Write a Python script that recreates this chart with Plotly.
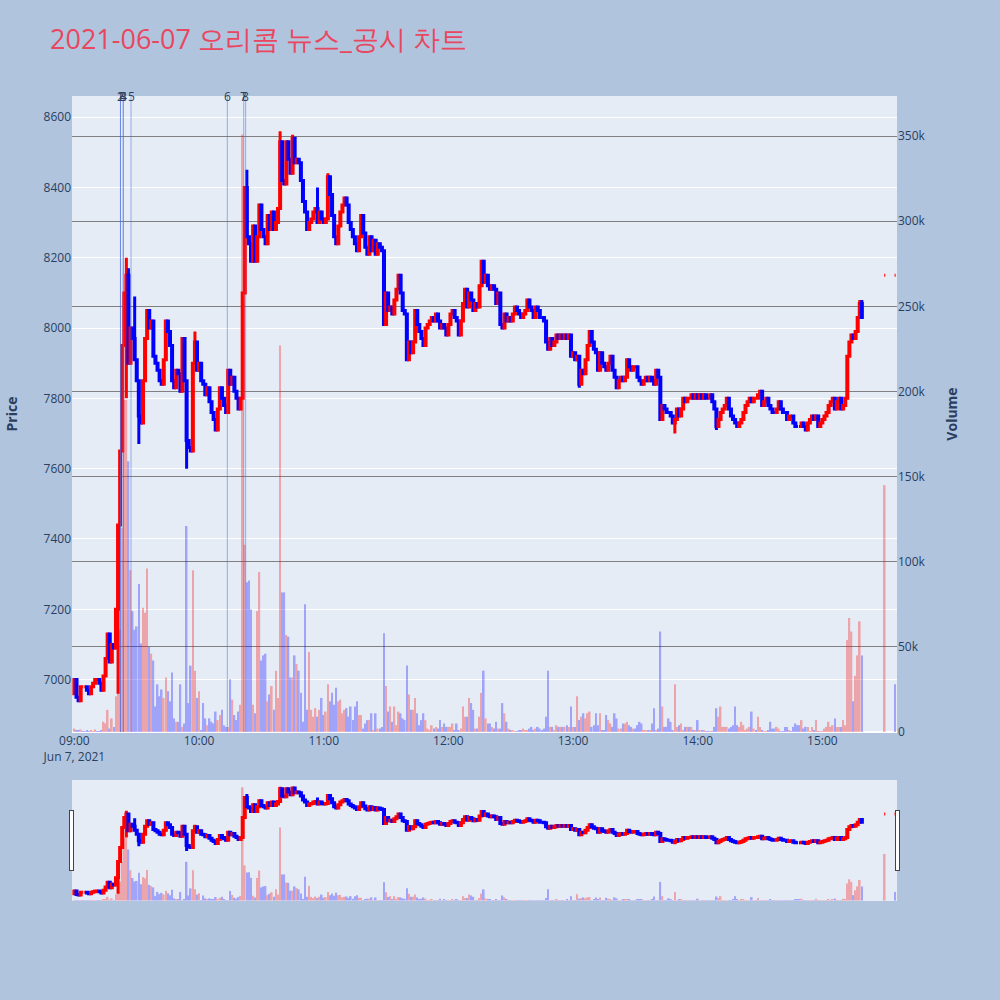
import pandas as pd
import plotly.graph_objects as go

title_text = "2021-06-07 오리콤 뉴스_공시 차트"

session_start = "2021-06-07 09:00"
first_open = 6960
# one close per minute, 09:00 .. 15:19
close_prices = [
    7000, 6950, 6940, 6980, 6980, 6980, 6970, 6960, 6980, 6990,
    7000, 7000, 6990, 6970, 7010, 7060, 7130, 7050, 7100, 7090,
    7200, 7440, 7650, 7950, 8100, 8150, 7900, 8000, 7970, 7910,
    7850, 7750, 7730, 7850, 7970, 8050, 8000, 8020, 7920, 7900,
    7880, 7850, 7840, 7910, 8020, 7990, 7950, 7850, 7830, 7880,
    7870, 7820, 7970, 7850, 7680, 7660, 7650, 7900, 7960, 7880,
    7900, 7850, 7840, 7810, 7830, 7790, 7760, 7740, 7710, 7770,
    7830, 7800, 7780, 7760, 7880, 7840, 7860, 7820, 7800, 7770,
    7800, 8100, 8400, 8260, 8240, 8190, 8290, 8190, 8260, 8350,
    8280, 8260, 8240, 8320, 8280, 8330, 8280, 8300, 8340, 8530,
    8420, 8410, 8530, 8480, 8440, 8540, 8470, 8480, 8470, 8420,
    8360, 8330, 8280, 8300, 8310, 8330, 8340, 8300, 8330, 8310,
    8300, 8310, 8430, 8380, 8320, 8260, 8240, 8290, 8330, 8350,
    8370, 8350, 8300, 8280, 8260, 8240, 8220, 8260, 8320, 8270,
    8230, 8210, 8260, 8220, 8250, 8210, 8240, 8230, 8220, 8010,
    8100, 8050, 8060, 8040, 8080, 8110, 8150, 8100, 8050, 8040,
    7910, 7960, 7930, 7960, 8050, 8010, 7990, 7970, 7950, 8000,
    8010, 8020, 8030, 8020, 8040, 8020, 8000, 8010, 8000, 7980,
    8010, 8040, 8050, 8030, 8020, 7980, 8020, 8070, 8110, 8060,
    8100, 8080, 8050, 8070, 8060, 8120, 8190, 8130, 8150, 8120,
    8110, 8120, 8110, 8070, 8100, 8010, 8000, 8040, 8020, 8030,
    8020, 8040, 8060, 8050, 8040, 8030, 8040, 8050, 8080, 8060,
    8050, 8030, 8060, 8050, 8030, 8030, 8020, 7960, 7940, 7970,
    7950, 7960, 7980, 7970, 7980, 7970, 7980, 7970, 7980, 7920,
    7930, 7910, 7920, 7840, 7880, 7870, 7910, 7950, 7990, 7960,
    7940, 7930, 7880, 7930, 7900, 7890, 7880, 7900, 7920, 7880,
    7860, 7830, 7850, 7860, 7850, 7860, 7910, 7890, 7880, 7890,
    7890, 7860, 7850, 7840, 7850, 7860, 7850, 7860, 7850, 7840,
    7880, 7860, 7740, 7780, 7770, 7760, 7760, 7750, 7730, 7740,
    7770, 7750, 7770, 7800, 7790, 7800, 7800, 7810, 7800, 7810,
    7800, 7810, 7800, 7810, 7800, 7800, 7810, 7790, 7770, 7720,
    7740, 7760, 7770, 7780, 7800, 7770, 7750, 7740, 7730, 7720,
    7730, 7740, 7760, 7780, 7790, 7800, 7790, 7800, 7800, 7810,
    7820, 7780, 7790, 7800, 7780, 7770, 7760, 7760, 7770, 7790,
    7770, 7760, 7760, 7740, 7750, 7750, 7730, 7720, 7720, 7720,
    7730, 7720, 7710, 7730, 7740, 7750, 7740, 7750, 7720, 7730,
    7740, 7750, 7760, 7780, 7790, 7800, 7770, 7790, 7800, 7770,
    7780, 7800, 7920, 7960, 7980, 7970, 7990, 8030, 8070, 8030,
]
# wick extremes (minute index -> price)
wick_high = {25: 8200, 26: 8170, 29: 8090, 58: 7990, 83: 8450, 99: 8560,
             105: 8550, 117: 8400, 122: 8440, 378: 8080, 379: 8080}
wick_low = {21: 6960, 25: 7800, 31: 7670, 54: 7600, 243: 7830, 289: 7700, 309: 7710}

# volume per minute, in thousands of shares
volumes_k = [
    2, 1, 1, 1.5, 0.5, 0.5, 1, 0.5, 1, 0.5,
    1.5, 0.5, 0.5, 1, 6, 5, 13, 2, 8, 3,
    21, 30, 60, 120, 195, 195, 159, 95, 71, 60,
    62, 87, 52, 73, 70, 96, 50, 46, 42, 15,
    28, 21, 25, 20, 32, 24, 18, 35, 8, 6,
    6, 28, 3, 5, 121, 17, 39, 95, 36, 20,
    24, 1, 17, 8, 4, 8, 6, 5, 12, 7,
    10, 13, 4, 3, 3, 31, 19, 10, 7, 12,
    16, 351, 110, 88, 89, 72, 16, 11, 71, 94,
    42, 45, 46, 18, 22, 27, 13, 36, 20, 227,
    82, 82, 57, 56, 32, 32, 45, 40, 36, 23,
    6, 75, 13, 47, 13, 9, 14, 9, 13, 20,
    10, 12, 28, 18, 23, 16, 26, 18, 19, 11,
    13, 14, 9, 15, 7, 15, 18, 10, 10, 2,
    5, 7, 7, 11, 1, 11, 2, 2, 3, 58,
    27, 12, 15, 6, 15, 4, 12, 11, 8, 7,
    39, 22, 13, 13, 20, 11, 4, 7, 11, 7,
    2, 1, 4, 2, 3, 2, 7, 3, 5, 3,
    3, 3, 5, 1, 5, 1, 2, 15, 9, 9,
    20, 17, 13, 2, 2, 9, 23, 36, 8, 5,
    5, 3, 2, 6, 2, 2, 17, 11, 6, 2,
    1, 1, 0.5, 0.5, 1, 1, 2, 1, 1, 2,
    3, 1, 2, 3, 2, 1, 2, 9, 36, 3,
    3, 1, 4, 3, 3, 3, 3, 4, 3, 15,
    3, 3, 21, 7, 9, 11, 8, 11, 12, 3,
    4, 11, 4, 11, 1, 1, 10, 7, 5, 3,
    11, 8, 2, 2, 5, 5, 6, 4, 3, 2,
    2, 4, 6, 5, 1, 1, 1, 1, 5, 14,
    1, 2, 59, 15, 3, 3, 8, 6, 1, 28,
    3, 4, 5, 1, 3, 3, 3, 3, 1, 1,
    7, 1, 1, 1, 0.5, 0.5, 0.5, 0.5, 3, 14,
    9, 15, 3, 3, 3, 2, 3, 4, 15, 4,
    3, 6, 4, 1, 2, 3, 12, 2, 1, 9,
    3, 1, 0.5, 0.5, 1, 6, 2, 2, 3, 2,
    0.5, 0.5, 3, 3, 1, 0.5, 3, 5, 4, 4,
    7, 2, 3, 3, 0.5, 3, 1, 7, 0.5, 0.5,
    0.5, 2, 3, 6, 3, 4, 8, 3, 3, 3,
    7, 4, 54, 67, 59, 18, 33, 45, 65, 45,
]

# closing auction / after-hours prints
auction_times = ["2021-06-07 15:30", "2021-06-07 15:35"]
auction_prices = [8150, 8150]
auction_volumes_k = [145, 28]

# news / disclosure markers
event_times = ["2021-06-07 09:22:10", "2021-06-07 09:22:10", "2021-06-07 09:23:30",
               "2021-06-07 09:23:30", "2021-06-07 09:27:15", "2021-06-07 10:13:35",
               "2021-06-07 10:21:30", "2021-06-07 10:22:25"]
event_labels = ["1", "2", "3", "4", "5", "6", "7", "8"]

x_range = ["2021-06-07 08:58:50", "2021-06-07 15:35:55"]
price_range = [6851, 8660]
volume_range = [0, 373600]

# ---- build OHLC ----
times = list(pd.date_range(session_start, periods=len(close_prices), freq="min")) + \
    list(pd.to_datetime(auction_times))
closes = close_prices + auction_prices
opens = [first_open] + close_prices[:-1] + auction_prices
highs = [max(o, c, wick_high.get(i, 0)) for i, (o, c) in enumerate(zip(opens, closes))]
lows = [min(o, c, wick_low.get(i, 10**9)) for i, (o, c) in enumerate(zip(opens, closes))]
vols = [v * 1000 for v in volumes_k + auction_volumes_k]
vol_colors = []
for i, c in enumerate(closes):
    prev = opens[0] if i == 0 else closes[i - 1]
    vol_colors.append("red" if c > prev else "blue")

fig = go.Figure()
fig.add_trace(go.Candlestick(
    x=times, open=opens, high=highs, low=lows, close=closes, name="Price",
    increasing=dict(line=dict(color="red", width=3), fillcolor="red"),
    decreasing=dict(line=dict(color="blue", width=3), fillcolor="blue"),
    yaxis="y",
))
fig.add_trace(go.Bar(
    x=times, y=vols, marker=dict(color=vol_colors, line=dict(width=0)),
    opacity=0.3, name="Volume", yaxis="y2",
))

shapes = []
annotations = []
for t, lab in zip(event_times, event_labels):
    shapes.append(dict(type="line", xref="x", yref="paper", x0=t, x1=t, y0=0, y1=1,
                       line=dict(color="rgba(65,105,225,0.5)", width=1)))
    annotations.append(dict(x=t, y=1, xref="x", yref="paper", text=lab, showarrow=False,
                            xanchor="center", yanchor="middle",
                            font=dict(size=12, color="#2a3f5f")))

fig.update_layout(
    width=1000, height=1000,
    template="plotly",
    paper_bgcolor="lightsteelblue",
    title=dict(text=title_text, x=0.05, y=0.96, yanchor="middle",
               font=dict(size=27, color="#E8475F")),
    margin=dict(l=72, r=103, t=96, b=100),
    showlegend=False,
    shapes=shapes,
    annotations=annotations,
    xaxis=dict(type="date", range=x_range, showgrid=False,
               rangeslider=dict(visible=True, thickness=0.15, bgcolor="#E5ECF6",
                                range=x_range)),
    yaxis=dict(title=dict(text="<b>Price</b>", font=dict(size=14), standoff=22),
               range=price_range),
    yaxis2=dict(title=dict(text="<b>Volume</b>", font=dict(size=14), standoff=22),
                overlaying="y", side="right",
                range=volume_range, showgrid=True, gridcolor="gray"),
)

fig.write_html("out.html", config={"displayModeBar": False},
               post_script="document.body.style.margin='0';")
